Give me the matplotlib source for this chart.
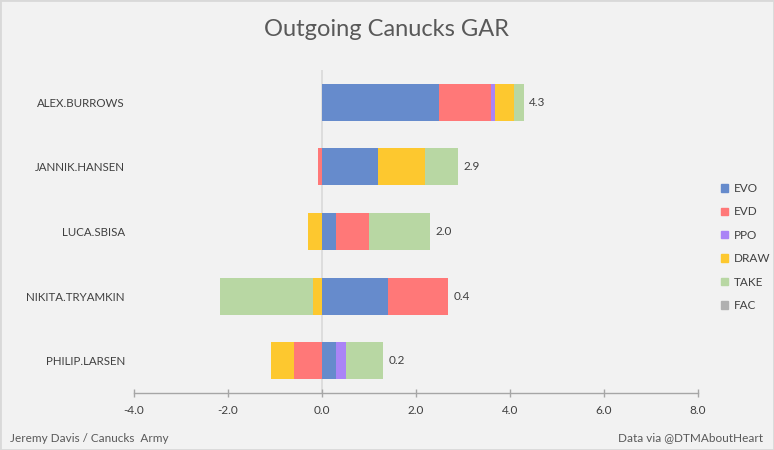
import matplotlib.pyplot as plt
from matplotlib.patches import Patch
import numpy as np

plt.rcParams['font.family'] = ['Lato', 'DejaVu Sans']

# players, top to bottom
players = ["ALEX.BURROWS", "JANNIK.HANSEN", "LUCA.SBISA", "NIKITA.TRYAMKIN", "PHILIP.LARSEN"]

# GAR components
evo = [2.50, 1.19, 0.29, 1.40, 0.30]
evd = [1.09, -0.09, 0.70, 1.28, -0.60]
ppo = [0.10, 0.0, 0.0, 0.0, 0.21]
draw = [0.40, 1.01, -0.30, -0.19, -0.49]
take = [0.20, 0.70, 1.30, -1.98, 0.79]
fac = [0.0, 0.0, 0.0, 0.0, 0.0]

totals = ["4.3", "2.9", "2.0", "0.4", "0.2"]

series = ["EVO", "EVD", "PPO", "DRAW", "TAKE", "FAC"]
colors = ["#668bcc", "#ff7878", "#aa84f6", "#fdc82f", "#b8d7a3", "#b0b0b0"]
values = [evo, evd, ppo, draw, take, fac]

bg = "#f2f2f2"
text_col = "#404040"

fig = plt.figure(figsize=(7.74, 4.5), dpi=100, facecolor=bg)
ax = fig.add_axes([134 / 774, 1 - 393 / 450, 564 / 774, 323 / 450])
ax.set_facecolor(bg)

y = np.arange(len(players))
pos_left = np.zeros(len(players))
neg_left = np.zeros(len(players))
for name, col, vals in zip(series, colors, values):
    v = np.array(vals)
    left = np.where(v >= 0, pos_left, neg_left)
    ax.barh(y, v, left=left, height=0.57, color=col, zorder=2)
    pos_left += np.where(v > 0, v, 0)
    neg_left += np.where(v < 0, v, 0)

# total labels to the right of each bar
for i in range(len(players)):
    ax.annotate(totals[i], (pos_left[i], y[i]), xytext=(4, 0), textcoords="offset points",
                va="center", ha="left", fontsize=8.5, color=text_col)

ax.set_xlim(-4, 8)
ax.set_ylim(len(players) - 0.5, -0.5)
ax.set_xticks([-4, -2, 0, 2, 4, 6, 8])
ax.set_xticklabels(["-4.0", "-2.0", "0.0", "2.0", "4.0", "6.0", "8.0"])
ax.set_yticks(y)
ax.set_yticklabels(players)
ax.tick_params(axis="y", length=0, pad=6.5, labelsize=8.3, labelcolor=text_col)
ax.tick_params(axis="x", direction="inout", length=6, width=1, color="#a6a6a6",
               pad=6, labelsize=8.5, labelcolor=text_col)

for s in ["top", "right", "left"]:
    ax.spines[s].set_visible(False)
ax.spines["bottom"].set_color("#a6a6a6")
ax.spines["bottom"].set_linewidth(1)
ax.axvline(0, color="#d9d9d9", lw=1.2, zorder=1)

fig.text(0.5, 1 - 30 / 450, "Outgoing Canucks GAR", ha="center", va="center",
         fontsize=17, color="#595959")
fig.text(10 / 774, 1 - 438 / 450, "Jeremy Davis / Canucks  Army", ha="left", va="center",
         fontsize=8.5, color="#595959")
fig.text(763 / 774, 1 - 438 / 450, "Data via @DTMAboutHeart", ha="right", va="center",
         fontsize=8.5, color="#595959")

handles = [Patch(color=c, label=n) for n, c in zip(series, colors)]
fig.legend(handles=handles, loc="center left", bbox_to_anchor=(0.918, 0.451),
           frameon=False, fontsize=8.5, handlelength=0.6, handleheight=0.6,
           handletextpad=0.5, labelspacing=1.05, labelcolor=text_col)

# light border round the picture
fig.patches.append(plt.Rectangle((0, 0), 1, 1, transform=fig.transFigure,
                                 fill=False, edgecolor="#d9d9d9", lw=2))

fig.savefig("out.png", dpi=100, facecolor=bg)
